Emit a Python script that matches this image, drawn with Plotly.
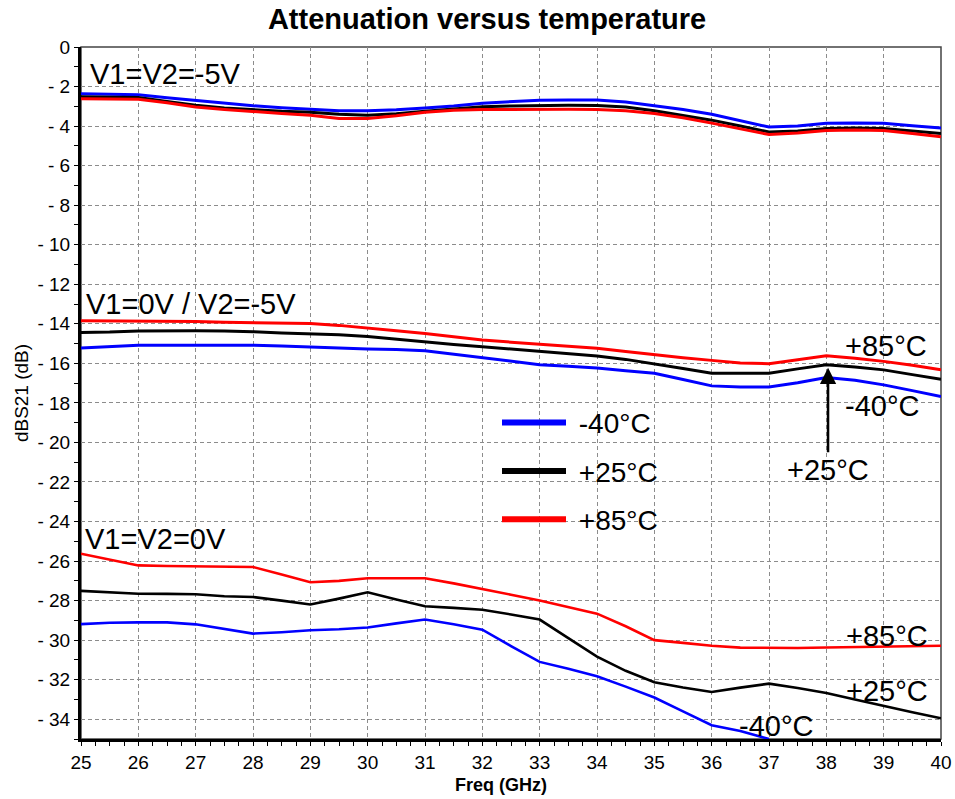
import plotly.graph_objects as go

freq = [25, 25.5, 26, 26.5, 27, 27.5, 28, 28.5, 29, 29.5, 30, 30.5, 31, 31.5, 32,
        32.5, 33, 33.5, 34, 34.5, 35, 35.5, 36, 36.5, 37, 37.5, 38, 38.5, 39, 39.5, 40]

# V1=V2=-5V
top_m40 = [-2.37, -2.38, -2.42, -2.57, -2.71, -2.85, -2.97, -3.07, -3.15, -3.22, -3.22, -3.18, -3.08, -2.98, -2.84,
           -2.76, -2.69, -2.68, -2.68, -2.78, -2.97, -3.16, -3.40, -3.72, -4.05, -4.00, -3.86, -3.84, -3.86, -3.98, -4.10]
top_p25 = [-2.52, -2.53, -2.56, -2.75, -2.95, -3.08, -3.18, -3.25, -3.30, -3.40, -3.45, -3.38, -3.25, -3.12, -3.02,
           -2.98, -2.95, -2.95, -2.96, -3.04, -3.22, -3.45, -3.70, -4.00, -4.30, -4.25, -4.12, -4.10, -4.12, -4.25, -4.38]
top_p85 = [-2.62, -2.63, -2.64, -2.82, -3.03, -3.16, -3.27, -3.36, -3.45, -3.62, -3.62, -3.48, -3.30, -3.20, -3.16,
           -3.15, -3.15, -3.15, -3.16, -3.22, -3.36, -3.58, -3.85, -4.15, -4.43, -4.35, -4.22, -4.20, -4.22, -4.38, -4.54]

# V1=0V / V2=-5V
mid_m40 = [-15.23, -15.16, -15.08, -15.08, -15.08, -15.08, -15.08, -15.12, -15.16, -15.23, -15.28, -15.30, -15.36, -15.53, -15.70,
           -15.88, -16.07, -16.15, -16.24, -16.38, -16.50, -16.82, -17.14, -17.20, -17.20, -16.98, -16.72, -16.85, -17.09, -17.38, -17.68]
mid_p25 = [-14.44, -14.42, -14.36, -14.35, -14.35, -14.37, -14.40, -14.47, -14.50, -14.56, -14.64, -14.78, -14.93, -15.05, -15.16,
           -15.27, -15.38, -15.50, -15.63, -15.80, -16.02, -16.26, -16.50, -16.50, -16.50, -16.28, -16.07, -16.18, -16.33, -16.57, -16.80]
mid_p85 = [-13.85, -13.85, -13.85, -13.85, -13.88, -13.92, -13.93, -13.97, -13.98, -14.08, -14.20, -14.35, -14.49, -14.66, -14.82,
           -14.93, -15.04, -15.14, -15.24, -15.40, -15.57, -15.72, -15.85, -15.98, -16.02, -15.82, -15.62, -15.74, -15.90, -16.10, -16.33]

# V1=V2=0V
bot_m40 = [-29.19, -29.12, -29.10, -29.10, -29.20, -29.45, -29.67, -29.60, -29.50, -29.45, -29.36, -29.15, -28.96, -29.20, -29.47,
           -30.30, -31.10, -31.45, -31.83, -32.35, -32.90, -33.60, -34.30, -34.60, -35.00, None, None, None, None, None, None]
bot_p25 = [-27.51, -27.58, -27.65, -27.66, -27.68, -27.78, -27.82, -28.00, -28.20, -27.90, -27.58, -27.95, -28.29, -28.37, -28.46,
           -28.70, -28.96, -29.90, -30.83, -31.55, -32.13, -32.40, -32.62, -32.40, -32.20, -32.42, -32.67, -33.00, -33.33, -33.65, -33.95]
bot_p85 = [-25.63, -25.92, -26.22, -26.25, -26.27, -26.28, -26.30, -26.68, -27.07, -27.00, -26.87, -26.87, -26.87, -27.13, -27.40,
           -27.70, -28.00, -28.33, -28.66, -29.30, -30.00, -30.14, -30.28, -30.38, -30.40, -30.40, -30.37, -30.35, -30.32, -30.30, -30.28]

temps = [" -40°C", " +25°C", " +85°C"]
colors = ["#0000ff", "#000000", "#ff0000"]

y_ticks = list(range(0, -35, -2))
y_text = ["0" if v == 0 else "- " + str(-v) for v in y_ticks]
x_ticks = list(range(25, 41))

FONT = "Liberation Sans, Arial, sans-serif"

fig = go.Figure()
groups = [(top_m40, top_p25, top_p85, 3), (mid_m40, mid_p25, mid_p85, 3), (bot_m40, bot_p25, bot_p85, 2.6)]
for g in groups:
    for series, col in zip(g[:3], colors):
        fig.add_trace(go.Scatter(x=freq, y=series, mode="lines", line=dict(color=col, width=g[3]),
                                 showlegend=False, hoverinfo="skip"))
# legend entries
for i, (t, col) in enumerate(zip(temps, colors)):
    fig.add_trace(go.Scatter(x=[None], y=[None], mode="lines", name=t, legendgroup=str(i),
                             line=dict(color=col, width=6)))

ann_font = dict(family=FONT, size=29, color="black")
anns = [
    dict(x=25.12, y=-1.39, text="V1=V2=-5V"),
    dict(x=25.05, y=-12.98, text="V1=0V / V2=-5V"),
    dict(x=25.03, y=-24.88, text="V1=V2=0V"),
    dict(x=38.29, y=-15.13, text="+85°C"),
    dict(x=38.29, y=-18.15, text="-40°C"),
    dict(x=38.30, y=-29.79, text="+85°C"),
    dict(x=38.30, y=-32.58, text="+25°C"),
    dict(x=36.44, y=-34.35, text="-40°C"),
]
annotations = [dict(xref="x", yref="y", showarrow=False, xanchor="left", yanchor="middle",
                    font=ann_font, **a) for a in anns]
annotations.append(dict(xref="x", yref="y", x=38.03, y=-16.22, text="+25°C", showarrow=True,
                        ax=0, ay=102, arrowhead=2, arrowsize=1.3, arrowwidth=2.5, arrowcolor="black",
                        font=ann_font, standoff=0))
annotations.append(dict(xref="paper", yref="paper", x=(501 - 81) / 860, y=(739 - 785) / 692,
                        xanchor="center", yanchor="middle", showarrow=False, text="<b>Freq (GHz)</b>",
                        font=dict(family=FONT, size=18, color="black")))

fig.update_layout(
    width=955, height=799,
    margin=dict(l=81, r=14, t=47, b=60, autoexpand=False),
    paper_bgcolor="white", plot_bgcolor="white",
    title=dict(text="<b>Attenuation versus temperature</b>", x=0.51, xref="container", xanchor="center",
               y=1 - 19 / 799, yref="container", yanchor="middle",
               font=dict(family=FONT, size=29, color="black")),
    font=dict(family=FONT, color="black"),
    annotations=annotations,
    legend=dict(x=(497 - 81) / 860, y=(-(398 - 47.6) / 19.75 + 35) / 35, xanchor="left", yanchor="top",
                bgcolor="rgba(0,0,0,0)", font=dict(family=FONT, size=28, color="black"),
                itemwidth=64, tracegroupgap=9),
    shapes=[dict(type="rect", xref="paper", yref="paper", x0=0, y0=0, x1=1, y1=1,
                 line=dict(color="#444444", width=1.5), layer="below")],
)
fig.update_xaxes(range=[25, 40], tickvals=x_ticks, ticks="outside", ticklen=4, tickcolor="black",
                 tickfont=dict(family=FONT, size=19, color="black"), automargin=False,
                 showgrid=True, gridcolor="#8c8c8c", griddash="4px,3px", gridwidth=1,
                 showline=True, linecolor="black", linewidth=3, zeroline=False,
                 minor=dict(dtick=0.25, ticks="outside", ticklen=4, tickcolor="black", showgrid=False))
fig.update_yaxes(range=[-35, 0], tickvals=y_ticks, ticktext=y_text, ticks="outside", ticklen=4, tickcolor="black",
                 tickfont=dict(family=FONT, size=19, color="black"), automargin=False,
                 showgrid=True, gridcolor="#8c8c8c", griddash="4px,3px", gridwidth=1,
                 showline=True, linecolor="black", linewidth=3, zeroline=False,
                 minor=dict(dtick=1, ticks="outside", ticklen=4, tickcolor="black", showgrid=False),
                 title=dict(text="dBS21 (dB)", font=dict(family=FONT, size=19, color="black"), standoff=4))

fig.write_html("out.html", post_script="document.body.style.margin='0';",
               config={"displayModeBar": False})
